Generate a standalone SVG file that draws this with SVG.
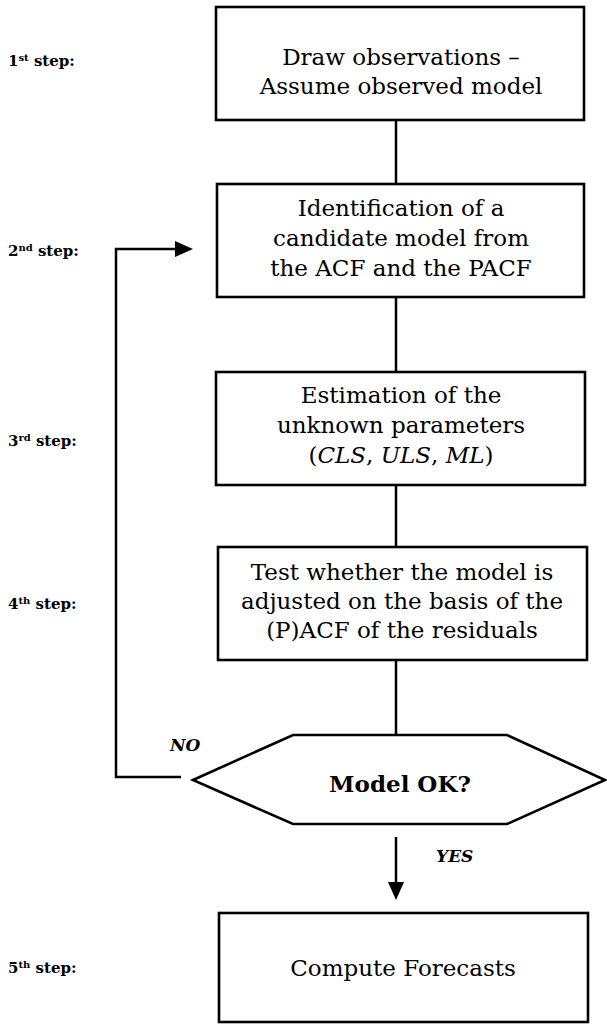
<svg xmlns="http://www.w3.org/2000/svg" width="607" height="1024" viewBox="0 0 607 1024">
<style>
.box{fill:#fff;stroke:#000;stroke-width:2.6}
.con{fill:none;stroke:#000;stroke-width:2.5}
.t{font-family:"DejaVu Serif","Liberation Serif",serif;font-size:23px;fill:#000;text-anchor:middle}
.lbl{font-family:"DejaVu Serif","Liberation Serif",serif;font-size:15px;font-weight:bold;fill:#000}
.sup{font-size:10px}
.yn{font-family:"DejaVu Serif","Liberation Serif",serif;font-size:17px;font-weight:bold;font-style:italic;fill:#000}
</style>
<defs>
<marker id="ah" viewBox="0 0 18 16" refX="0" refY="8" markerWidth="18" markerHeight="16" markerUnits="userSpaceOnUse" orient="auto">
<path d="M0,0 L18,8 L0,16 z" fill="#000"/>
</marker>
</defs>
<rect width="607" height="1024" fill="#fff"/>
<g id="labels">
<text class="lbl" x="8" y="66">1<tspan class="sup" dy="-5">st</tspan><tspan dy="5"> step:</tspan></text>
<text class="lbl" x="8" y="256">2<tspan class="sup" dy="-5">nd</tspan><tspan dy="5"> step:</tspan></text>
<text class="lbl" x="8" y="446">3<tspan class="sup" dy="-5">rd</tspan><tspan dy="5"> step:</tspan></text>
<text class="lbl" x="8" y="609">4<tspan class="sup" dy="-5">th</tspan><tspan dy="5"> step:</tspan></text>
<text class="lbl" x="8" y="973">5<tspan class="sup" dy="-5">th</tspan><tspan dy="5"> step:</tspan></text>
</g>
<g id="connectors">
<line class="con" x1="396" y1="120" x2="396" y2="184"/>
<line class="con" x1="396" y1="297" x2="396" y2="372"/>
<line class="con" x1="396" y1="485" x2="396" y2="547"/>
<line class="con" x1="396" y1="660" x2="396" y2="735"/>
<line class="con" x1="396" y1="837" x2="396" y2="882" marker-end="url(#ah)"/>
<path class="con" d="M181,777 H116 V249 H175" marker-end="url(#ah)"/>
<text class="yn" x="170" y="751">NO</text>
<text class="yn" x="436" y="862">YES</text>
</g>
<g id="step1">
<rect class="box" x="216" y="7" width="368" height="113"/>
<text class="t" x="401" y="65">Draw observations –</text>
<text class="t" x="401" y="94">Assume observed model</text>
</g>
<g id="step2">
<rect class="box" x="217" y="184" width="367" height="113"/>
<text class="t" x="401" y="216">Identification of a</text>
<text class="t" x="401" y="246">candidate model from</text>
<text class="t" x="401" y="276">the ACF and the PACF</text>
</g>
<g id="step3">
<rect class="box" x="216" y="372" width="369" height="113"/>
<text class="t" x="401" y="403">Estimation of the</text>
<text class="t" x="401" y="433">unknown parameters</text>
<text class="t" x="401" y="463">(<tspan font-style="italic">CLS</tspan>, <tspan font-style="italic">ULS</tspan>, <tspan font-style="italic">ML</tspan>)</text>
</g>
<g id="step4">
<rect class="box" x="218" y="547" width="369" height="113"/>
<text class="t" x="402" y="580">Test whether the model is</text>
<text class="t" x="402" y="609">adjusted on the basis of the</text>
<text class="t" x="402" y="638">(P)ACF of the residuals</text>
</g>
<g id="decision">
<polygon class="box" points="193,780 293,735 507,735 605,780 507,824 293,824"/>
<text class="t" x="400" y="792" font-weight="bold">Model OK?</text>
</g>
<g id="step5">
<rect class="box" x="219" y="913" width="369" height="109"/>
<text class="t" x="403" y="976">Compute Forecasts</text>
</g>
</svg>
